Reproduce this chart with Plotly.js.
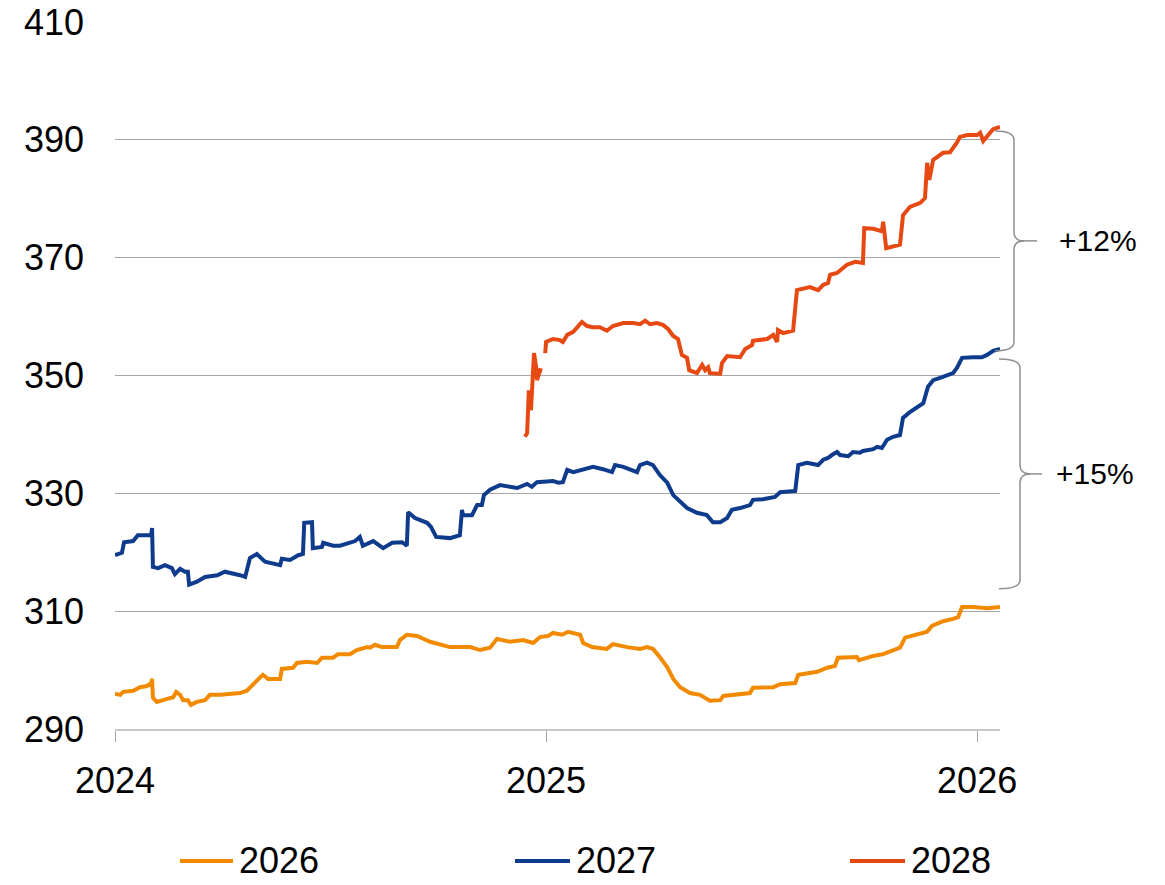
<!DOCTYPE html>
<html>
<head>
<meta charset="utf-8">
<script src="https://cdn.plot.ly/plotly-3.0.1.min.js"></script>
<style>
  html, body { margin: 0; padding: 0; background: #ffffff; }
  #chart { width: 1165px; height: 885px; }
</style>
</head>
<body>
<div id="chart"></div>
<script>
// ---- Data (time expressed as fractional calendar years) ----
const seriesNames = ["2026", "2027", "2028"];
const xTickVals = [2024, 2025, 2026];
const xTickText = ["2024", "2025", "2026"];

const t2026 = [2024.000,2024.012,2024.019,2024.042,2024.058,2024.074,2024.084,2024.086,2024.088,2024.097,
  2024.121,2024.135,2024.142,2024.151,2024.158,2024.169,2024.176,2024.190,2024.209,2024.220,
  2024.244,2024.274,2024.290,2024.306,2024.318,2024.329,2024.343,2024.355,2024.383,2024.387,
  2024.413,2024.422,2024.445,2024.469,2024.480,2024.506,2024.517,2024.545,2024.561,2024.575,
  2024.585,2024.592,2024.603,2024.619,2024.654,2024.661,2024.677,2024.701,2024.731,2024.777,
  2024.824,2024.847,2024.870,2024.886,2024.916,2024.947,2024.970,2024.986,2025.005,2025.016,
  2025.037,2025.051,2025.079,2025.086,2025.107,2025.141,2025.155,2025.188,2025.218,2025.234,
  2025.248,2025.264,2025.281,2025.295,2025.311,2025.334,2025.357,2025.380,2025.404,2025.411,
  2025.450,2025.473,2025.480,2025.527,2025.543,2025.578,2025.585,2025.629,2025.652,2025.670,
  2025.677,2025.721,2025.726,2025.759,2025.782,2025.798,2025.821,2025.833,2025.861,2025.884,
  2025.895,2025.921,2025.944,2025.956,2025.965,2025.991,2026.023,2026.053];
const v2026 = [296.0,295.8,296.3,296.5,297.1,297.3,297.8,298.5,295.3,294.6,
  295.1,295.4,296.3,295.8,294.9,294.9,294.1,294.6,294.9,295.8,
  295.8,296.0,296.1,296.5,297.5,298.2,299.2,298.5,298.5,300.2,
  300.4,301.2,301.4,301.2,302.1,302.1,302.7,302.7,303.4,303.6,
  303.9,303.8,304.3,303.9,303.9,305.1,306.0,305.8,304.8,303.9,
  303.9,303.4,303.8,305.3,304.8,305.1,304.6,305.6,305.8,306.3,
  306.0,306.5,306.0,304.6,303.9,303.6,304.4,303.9,303.6,303.9,
  303.6,302.2,300.5,298.5,297.1,296.1,295.8,294.8,294.9,295.6,
  296.0,296.1,297.0,297.1,297.6,297.8,299.2,299.7,300.4,300.7,
  302.1,302.2,301.7,302.4,302.7,303.2,303.8,305.5,306.0,306.5,
  307.5,308.3,308.7,309.0,310.7,310.7,310.5,310.7];

const t2027 = [2024.000,2024.016,2024.021,2024.042,2024.053,2024.074,2024.084,2024.086,2024.088,2024.100,
  2024.116,2024.132,2024.139,2024.151,2024.162,2024.169,2024.172,2024.190,2024.209,2024.237,
  2024.255,2024.290,2024.302,2024.313,2024.329,2024.348,2024.383,2024.387,2024.406,2024.425,
  2024.436,2024.439,2024.457,2024.459,2024.480,2024.483,2024.506,2024.522,2024.557,2024.568,
  2024.575,2024.599,2024.622,2024.643,2024.666,2024.677,2024.680,2024.696,2024.724,2024.733,
  2024.745,2024.777,2024.800,2024.805,2024.807,2024.828,2024.840,2024.851,2024.856,2024.870,
  2024.893,2024.933,2024.956,2024.967,2024.979,2025.016,2025.028,2025.039,2025.049,2025.063,
  2025.095,2025.109,2025.132,2025.153,2025.160,2025.179,2025.211,2025.218,2025.234,2025.248,
  2025.264,2025.281,2025.295,2025.311,2025.327,2025.350,2025.373,2025.387,2025.404,2025.420,
  2025.431,2025.450,2025.473,2025.480,2025.503,2025.531,2025.543,2025.578,2025.585,2025.605,
  2025.631,2025.643,2025.654,2025.663,2025.675,2025.682,2025.701,2025.712,2025.728,2025.735,
  2025.759,2025.768,2025.779,2025.791,2025.805,2025.821,2025.828,2025.844,2025.863,2025.875,
  2025.886,2025.898,2025.914,2025.930,2025.944,2025.953,2025.965,2025.991,2026.011,2026.023,
  2026.037,2026.053];
const v2027 = [319.5,319.9,321.7,321.9,322.9,322.8,322.9,324.1,317.5,317.3,
  317.8,317.3,316.3,317.2,316.7,316.7,314.5,315.0,315.8,316.1,
  316.7,316.1,315.8,319.0,319.7,318.4,317.8,318.9,318.7,319.5,
  319.7,325.0,325.1,320.7,320.9,321.6,321.1,321.1,321.9,322.6,
  321.1,321.9,320.7,321.6,321.7,321.1,326.8,325.8,325.0,324.3,
  322.6,322.4,322.9,327.2,326.3,326.3,328.0,328.0,329.7,330.6,
  331.4,330.9,331.6,331.1,331.9,332.1,331.8,331.9,334.0,333.6,
  334.3,334.5,334.1,333.6,334.8,334.5,333.6,334.8,335.2,334.8,
  333.1,331.8,329.7,328.5,327.5,326.7,326.3,325.1,325.1,325.8,
  327.2,327.5,328.0,328.9,329.0,329.4,330.2,330.4,334.8,335.2,
  334.8,335.7,336.0,336.5,337.0,336.5,336.3,337.0,336.9,337.2,
  337.5,337.9,337.7,339.1,339.6,339.9,342.8,343.8,344.7,345.3,
  348.1,349.2,349.6,350.1,350.4,351.3,353.0,353.1,353.1,353.5,
  354.2,354.5];

const t2028 = [2024.951,2024.956,2024.958,2024.960,2024.965,2024.970,2024.972,2024.977,2024.979,2024.986,
  2024.991,2024.995,2024.998,2025.000,2025.016,2025.032,2025.039,2025.049,2025.063,2025.072,
  2025.083,2025.095,2025.109,2025.125,2025.141,2025.155,2025.179,2025.202,2025.218,2025.230,
  2025.241,2025.257,2025.271,2025.283,2025.295,2025.306,2025.315,2025.327,2025.332,2025.350,
  2025.362,2025.369,2025.376,2025.380,2025.404,2025.408,2025.420,2025.450,2025.462,2025.478,
  2025.480,2025.513,2025.527,2025.536,2025.538,2025.550,2025.573,2025.582,2025.612,2025.631,
  2025.643,2025.654,2025.659,2025.675,2025.687,2025.698,2025.717,2025.735,2025.738,2025.759,
  2025.779,2025.782,2025.789,2025.821,2025.828,2025.844,2025.868,2025.879,2025.884,2025.889,
  2025.898,2025.921,2025.937,2025.944,2025.953,2025.960,2025.977,2026.000,2026.007,2026.014,
  2026.030,2026.037,2026.053];
const v2028 = [339.6,340.2,343.8,347.5,344.1,349.8,353.8,351.4,349.2,350.9,
  350.8,null,353.8,355.7,356.2,356.0,355.7,356.9,357.4,358.1,
  359.1,358.4,358.2,358.2,357.6,358.4,358.9,358.9,358.7,359.3,
  358.7,358.9,358.6,357.9,356.7,356.2,353.5,353.0,350.9,350.4,
  351.8,350.9,351.4,350.4,350.3,352.1,353.3,353.1,354.5,355.2,
  355.9,356.2,356.9,355.7,357.7,357.2,357.6,364.5,365.0,364.5,
  365.4,365.7,367.1,367.4,368.2,368.8,369.3,369.1,375.0,374.9,
  374.5,376.1,371.6,372.2,377.2,378.6,379.3,380.1,386.1,383.2,
  386.6,387.8,387.9,388.6,389.5,390.5,390.8,390.8,391.2,389.8,
  391.2,391.8,392.2];

const changeLabels = ["+12%", "+15%"];

// ---- Styling ----
const FONT = "Liberation Sans, Arial, Helvetica, sans-serif";
const colors = ["#F28A00", "#0E3B8C", "#E64A12"];
const LW = 4;

const traces = [
  {x: t2026, y: v2026, name: seriesNames[0], type: "scatter", mode: "lines",
   line: {color: colors[0], width: LW}},
  {x: t2027, y: v2027, name: seriesNames[1], type: "scatter", mode: "lines",
   line: {color: colors[1], width: LW}},
  {x: t2028, y: v2028, name: seriesNames[2], type: "scatter", mode: "lines",
   line: {color: colors[2], width: LW}, connectgaps: false}
];

// curly brace helper (x in paper units, y in data units)
function brace(x0, xs, xt, top, bottom, d) {
  const mid = (top + bottom) / 2;
  return "M" + x0 + "," + top +
    " Q" + xs + "," + top + " " + xs + "," + (top - d) +
    " L" + xs + "," + (mid + d) +
    " Q" + xs + "," + mid + " " + xt + "," + mid +
    " Q" + xs + "," + mid + " " + xs + "," + (mid - d) +
    " L" + xs + "," + (bottom + d) +
    " Q" + xs + "," + bottom + " " + x0 + "," + bottom;
}
const braceColor = "#8f8f8f";
const b1 = {top: 391.5, bottom: 354.2};
const b2 = {top: 352.8, bottom: 313.8};

// custom legend row (paper coordinates, below the x axis)
const legY = -0.1867;
const legLineX = [[0.0734, 0.1333], [0.4520, 0.5141], [0.8305, 0.8927]];
const legTextX = [0.1390, 0.5198, 0.8983];

const shapes = [
  {type: "path", xref: "paper", yref: "y", layer: "above",
   path: brace(0.9944, 1.0158, 1.0271, b1.top, b1.bottom, 1.5),
   line: {color: braceColor, width: 1.5}},
  {type: "line", xref: "paper", yref: "y", layer: "above",
   x0: 1.0249, x1: 1.0418, y0: (b1.top + b1.bottom) / 2, y1: (b1.top + b1.bottom) / 2,
   line: {color: braceColor, width: 1.5}},
  {type: "path", xref: "paper", yref: "y", layer: "above",
   path: brace(0.9989, 1.0226, 1.0339, b2.top, b2.bottom, 1.5),
   line: {color: braceColor, width: 1.5}},
  {type: "line", xref: "paper", yref: "y", layer: "above",
   x0: 1.0316, x1: 1.0475, y0: (b2.top + b2.bottom) / 2, y1: (b2.top + b2.bottom) / 2,
   line: {color: braceColor, width: 1.5}}
];
const annotations = [
  {text: changeLabels[0], xref: "paper", yref: "y", x: 1.1107, y: (b1.top + b1.bottom) / 2,
   xanchor: "center", yanchor: "middle", showarrow: false,
   font: {family: FONT, size: 30, color: "#000000"}},
  {text: changeLabels[1], xref: "paper", yref: "y", x: 1.1073, y: (b2.top + b2.bottom) / 2,
   xanchor: "center", yanchor: "middle", showarrow: false,
   font: {family: FONT, size: 30, color: "#000000"}}
];
seriesNames.forEach(function (nm, i) {
  shapes.push({type: "line", xref: "paper", yref: "paper", layer: "above",
    x0: legLineX[i][0], x1: legLineX[i][1], y0: legY, y1: legY,
    line: {color: colors[i], width: LW}});
  annotations.push({text: nm, xref: "paper", yref: "paper", x: legTextX[i], y: legY,
    xanchor: "left", yanchor: "middle", showarrow: false, borderpad: 0,
    font: {family: FONT, size: 36, color: "#000000"}});
});

const layout = {
  width: 1165, height: 885,
  margin: {l: 115, r: 165, t: 22, b: 156, pad: 0, autoexpand: false},
  paper_bgcolor: "#ffffff", plot_bgcolor: "#ffffff",
  font: {family: FONT, size: 36, color: "#000000"},
  showlegend: false,
  xaxis: {
    range: [2024, 2026.053], type: "linear",
    tickvals: xTickVals, ticktext: xTickText,
    ticks: "outside", ticklen: 11, tickwidth: 1, tickcolor: "#a6a6a6",
    showline: true, linecolor: "#c8c8c8", linewidth: 2,
    showgrid: false, zeroline: false,
    tickfont: {family: FONT, size: 36, color: "#000000"},
    ticklabelstandoff: 8, fixedrange: true
  },
  yaxis: {
    range: [290, 410], tick0: 290, dtick: 20,
    showgrid: true, gridcolor: "#a6a6a6", gridwidth: 1,
    zeroline: false, showline: false, ticks: "",
    tickfont: {family: FONT, size: 36, color: "#000000"},
    ticklabelstandoff: 30, fixedrange: true
  },
  shapes: shapes,
  annotations: annotations
};

Plotly.newPlot("chart", traces, layout, {displayModeBar: false, staticPlot: true});
</script>
</body>
</html>
